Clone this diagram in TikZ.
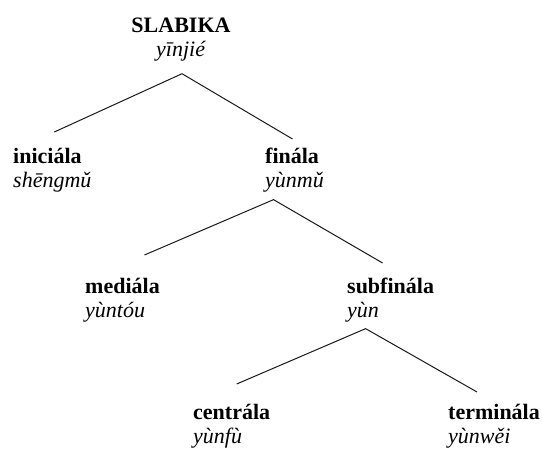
\documentclass[tikz,border=0pt]{standalone}
\usepackage{fontspec}
\setmainfont{Liberation Serif}
\usepackage{tikz}
\usetikzlibrary{positioning}

\begin{document}
\begin{tikzpicture}[x=1pt, y=-1pt,
        part/.style={inner sep=0pt, align=left, anchor=north west, font=\fontsize{22}{24}\selectfont},
        branch/.style={line width=1pt, draw=black!90}
    ]
        \useasboundingbox[fill=white] (0,0) rectangle (542,450);

        \node[part, anchor=north, align=center] (syl) at (181,18) {\textbf{SLABIKA}\\\textit{yīnjié}};
        \node[part] (ini) at (13,148) {\textbf{iniciála}\\\textit{shēngmǔ}};
        \node[part] (fin) at (265,148) {\textbf{finála}\\\textit{yùnmǔ}};
        \node[part] (med) at (85,278) {\textbf{mediála}\\\textit{yùntóu}};
        \node[part] (sub) at (347,278) {\textbf{subfinála}\\\textit{yùn}};
        \node[part] (cen) at (193,404) {\textbf{centrála}\\\textit{yùnfù}};
        \node[part] (ter) at (448,404) {\textbf{terminála}\\\textit{yùnwěi}};

        \draw[branch] ([xshift=2pt, yshift=16pt]ini.north) -- ([xshift=1pt, yshift=-12pt]syl.south) -- ([xshift=-2pt, yshift=9pt]fin.north);
        \draw[branch] ([xshift=22pt, yshift=23pt]med.north) -- ([xshift=-21pt, yshift=-7pt]fin.south) -- ([xshift=-8pt, yshift=15pt]sub.north);
        \draw[branch] ([xshift=5pt, yshift=20pt]cen.north) -- ([xshift=-25pt, yshift=-6pt]sub.south) -- ([xshift=-17pt, yshift=12pt]ter.north);
    \end{tikzpicture}
\end{document}
